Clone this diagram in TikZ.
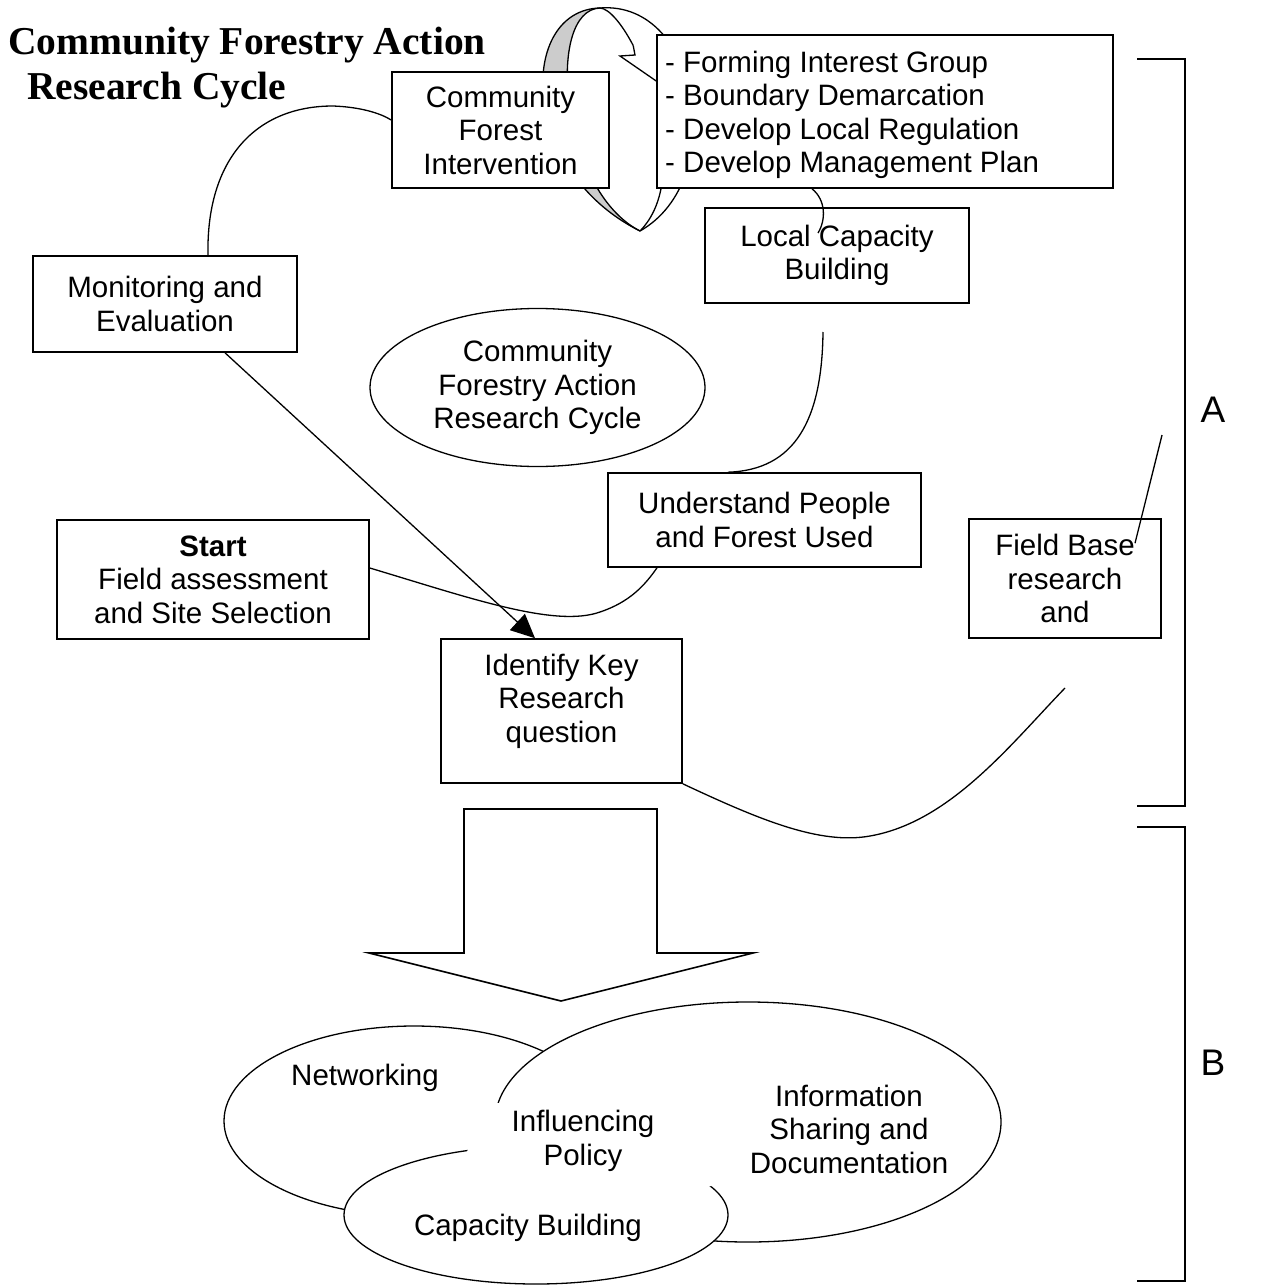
\documentclass[tikz,border=0pt]{standalone}
\usepackage{fontspec}
\setmainfont{Liberation Sans}
\newfontfamily\titlefont{Liberation Serif}
\usetikzlibrary{arrows.meta,shapes.geometric,calc}
\begin{document}
\begin{tikzpicture}[x=1pt,y=-1pt,
  box/.style={draw,line width=1.6pt,fill=white,rectangle,inner sep=0pt,align=center,font=\fontsize{29.5}{33.5}\selectfont},
  txt/.style={inner sep=0pt,align=center,font=\fontsize{29.5}{33.5}\selectfont},
  conn/.style={line width=1.3pt},
  ell/.style={draw,ellipse,line width=1.3pt,fill=white,inner sep=0pt},
  brk/.style={line width=2pt},
  ttl/.style={anchor=base west,inner sep=0pt,font=\titlefont\bfseries\fontsize{39.5}{45}\selectfont}]
\useasboundingbox (0,0) rectangle (1267,1287);

% ---- title
\node[ttl] (title1) at (8,55) {Community Forestry Action};
\node[ttl] (title2) at (27,100) {Research Cycle};

% ---- circular ribbon arrow
\fill[gray!40] (600,8) .. controls (518,10) and (518,170) .. (640,231)
   .. controls (560,190) and (545,10) .. (600,8) -- cycle;
\draw[conn] (600,8) .. controls (518,10) and (518,170) .. (640,231);
\draw[conn] (600,8) .. controls (545,10) and (560,190) .. (640,231);
\draw[conn] (600,8) .. controls (700,0) and (730,180) .. (640,231);
\draw[conn] (600,8) .. controls (609,8.6) and (621.6,23.4) .. (633.2,45.5);
\draw[conn] (657.5,111.9) .. controls (667.7,156.05) and (667,203.55) .. (640,231);
\draw[conn] (633.2,45.5) -- (635,55) -- (620,56) -- (662,85);

% ---- boxes
\node[box, minimum width=217pt, minimum height=116pt] (int) at (500.5,130) {Community\\Forest\\Intervention};
\node[box, minimum width=456pt, minimum height=153pt] (lst) at (885,111.5) {};
\node[txt, anchor=west, align=left] (lstt) at (665,115)
  {- Forming Interest Group\\- Boundary Demarcation\\- Develop Local Regulation\\- Develop Management Plan};
\node[box, minimum width=264pt, minimum height=95pt] (loc) at (837,255.5) {Local Capacity\\Building};
\node[box, minimum width=264pt, minimum height=96pt] (mon) at (165,304) {Monitoring and\\Evaluation};
\node[ell, minimum width=335pt, minimum height=158pt, font=\fontsize{29.5}{33.5}\selectfont, align=center] (cyc) at (537.5,387.5)
  {Community\\Forestry Action\\Research Cycle};
\node[box, minimum width=313pt, minimum height=94pt] (und) at (764.5,520) {Understand People\\and Forest Used};
\node[box, minimum width=312pt, minimum height=119pt] (start) at (213,579.5) {\textbf{Start}\\Field assessment\\and Site Selection};
\node[box, minimum width=241pt, minimum height=144pt] (idk) at (561.5,711) {};
\node[txt] (idkt) at (561.5,701) {Identify Key\\Research\\question};
\node[box, minimum width=192pt, minimum height=119pt] (fb) at (1065,578.5) {Field Base\\research\\and};

% ---- free ends
\coordinate (cEnd) at (823,332);
\coordinate (dEnd) at (818,233);
\coordinate (fEnd) at (1065,688);
\coordinate (gEnd) at (1162,435);

% ---- connectors
\draw[conn] ($(mon.north)+(43,0)$) .. controls (206,160) and (255,106) .. (333,106)
   .. controls (360,107) and (380,113) .. ($(int.west)+(0,-10)$);
\draw[conn] ($(lst.south)+(-73,0)$) .. controls (826,200) and (826,220) .. (dEnd);
\draw[conn] ($(und.north)+(-36.5,0)$) .. controls (795,470) and (822,420) .. (cEnd);
\draw[conn] ($(start.east)+(0,-11.5)$) .. controls (470,598) and (555,628) .. (600,612)
   .. controls (630,602) and (645,585) .. ($(und.south)+(-107.5,0)$);
\draw[conn, -{Triangle[length=24pt,width=22pt]}] ($(mon.south)+(60,0)$) -- ($(idk.north)+(-26.5,0)$);
\draw[conn] (idk.south east) .. controls (760,820) and (820,845) .. (870,836)
   .. controls (950,822) and (1010,745) .. (fEnd);
\draw[conn] ($(fb.north)+(70,25)$) -- (gEnd);

% ---- brackets
\draw[brk] (1137,59) -- (1185,59) -- (1185,806) -- (1137,806);
\draw[brk] (1137,827) -- (1185,827) -- (1185,1281) -- (1137,1281);
\node[font=\fontsize{37}{40}\selectfont, inner sep=0pt] (lblA) at (1213,410) {A};
\node[font=\fontsize{37}{40}\selectfont, inner sep=0pt] (lblB) at (1213,1063) {B};

% ---- block arrow
\draw[line width=1.6pt, fill=white] (464,809) -- (657,809) -- (657,953) -- (753,953) -- (561,1001)
   -- (369,953) -- (464,953) -- cycle;

% ---- bottom ellipses
\node[ell, minimum width=380pt, minimum height=190pt] (net) at (414,1121) {};
\node[ell, minimum width=506pt, minimum height=240pt] (info) at (748,1122) {};
\node[ell, minimum width=384pt, minimum height=138pt] (cap) at (536,1215) {};
\fill[white] (462,1160) -- (495,1103) -- (700,1103) -- (712,1186) -- (600,1200) -- cycle;
\node[txt] (nett) at (365,1078) {Networking};
\node[txt] (inft) at (583,1141) {Influencing\\Policy};
\node[txt] (capt) at (528,1228) {Capacity Building};
\node[txt] (infot) at (849,1129) {Information\\Sharing and\\Documentation};
\end{tikzpicture}
\end{document}
